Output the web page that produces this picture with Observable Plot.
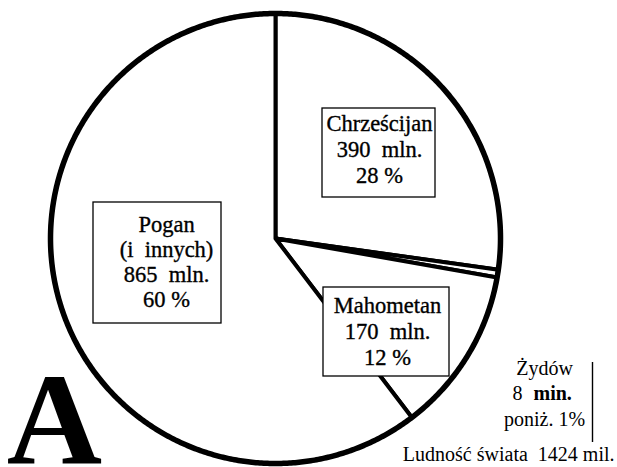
<!DOCTYPE html>
<html>
<head>
<meta charset="utf-8">
<script src="https://cdn.jsdelivr.net/npm/d3@7"></script>
<script src="https://cdn.jsdelivr.net/npm/@observablehq/plot@0.6"></script>
<style>
  html, body { margin: 0; padding: 0; background: #fff; }
  #chart svg { display: block; }
</style>
</head>
<body>
<div id="chart"></div>
<script>
// ---- data ----
const religions = ["Chrześcijan", "Żydów", "Mahometan", "Pogan"];
const millions = [390, 8, 170, 865];
const percentLabels = ["28 %", "poniż. 1%", "12 %", "60 %"];
const worldTotal = 1424;
const subtitleLines = { "Pogan": "(i\u2002innych)" };

// ---- layout (pixels) ----
const W = 617, H = 467;
const pie = { cx: 275, cy: 238, r: 225 };
const boxLayout = {
  "Chrześcijan": { x1: 322, x2: 435, y1: 108, y2: 197, cx: 379, y0: 130, step: 26 },
  "Mahometan":   { x1: 323, x2: 449, y1: 287, y2: 376, cx: 387, y0: 312, step: 26 },
  "Pogan":       { x1: 93,  x2: 221, y1: 202, y2: 323, cx: 166, y0: 231, step: 25.3 }
};
const jewsLayout = { cx: 544, y0: 374, step: 25.5 };

// ---- pie geometry from the data ----
const arcs = d3.pie().sort(null).value(d => d)(millions);
function arcPoints(a0, a1, name, withCenter) {
  const n = Math.max(2, Math.ceil((a1 - a0) / (Math.PI / 360)));
  const pts = withCenter ? [{ name, x: pie.cx, y: pie.cy }] : [];
  for (let i = 0; i <= n; i++) {
    const a = a0 + (a1 - a0) * i / n;
    pts.push({ name, x: pie.cx + pie.r * Math.sin(a), y: pie.cy - pie.r * Math.cos(a) });
  }
  return pts;
}
const slicePts = arcs.flatMap(a => arcPoints(a.startAngle, a.endAngle, religions[a.index], true));
const circlePts = arcPoints(0, 2 * Math.PI, "rim", false);

// ---- boxed labels ----
const boxes = [];
const boxLines = [];
religions.forEach((name, i) => {
  const b = boxLayout[name];
  if (!b) return;
  boxes.push({ name, ...b });
  const lines = [name];
  if (subtitleLines[name]) lines.push(subtitleLines[name]);
  lines.push(`${millions[i]}\u2002mln.`);
  lines.push(percentLabels[i]);
  lines.forEach((t, k) => boxLines.push({ text: t, x: b.cx, y: b.y0 + k * b.step }));
});

const jIdx = religions.indexOf("Żydów");
const jewsText = [
  { text: religions[jIdx], x: jewsLayout.cx, y: jewsLayout.y0 },
  { text: percentLabels[jIdx], x: jewsLayout.cx, y: jewsLayout.y0 + 2 * jewsLayout.step }
];

const serif = "Liberation Serif, Times New Roman, serif";

const chart = Plot.plot({
  width: W,
  height: H,
  margin: 0,
  x: { type: "identity" },
  y: { type: "identity" },
  marks: [
    Plot.line(slicePts, { x: "x", y: "y", z: "name", curve: "linear-closed",
      fill: "white", stroke: "black", strokeWidth: 4, strokeLinejoin: "round" }),
    Plot.line(circlePts, { x: "x", y: "y", curve: "linear-closed",
      stroke: "black", strokeWidth: 5.5 }),
    Plot.rect(boxes, { x1: "x1", x2: "x2", y1: "y1", y2: "y2",
      fill: "white", stroke: "black", strokeWidth: 1.3 }),
    Plot.text(boxLines, { x: "x", y: "y", text: "text", fontFamily: serif,
      fontSize: 22.5, lineAnchor: "bottom", textAnchor: "middle", fill: "black",
      stroke: "black", strokeWidth: 0.35 }),
    Plot.text(jewsText, { x: "x", y: "y", text: "text", fontFamily: serif,
      fontSize: 20, lineAnchor: "bottom", textAnchor: "middle", fill: "black" }),
    Plot.text([String(millions[jIdx])], { x: jewsLayout.cx - 22, y: jewsLayout.y0 + jewsLayout.step,
      text: d => d, fontFamily: serif, fontSize: 20, lineAnchor: "bottom", textAnchor: "end", fill: "black" }),
    Plot.text(["min."], { x: jewsLayout.cx - 11, y: jewsLayout.y0 + jewsLayout.step,
      text: d => d, fontFamily: serif, fontSize: 20, fontWeight: "bold", lineAnchor: "bottom", textAnchor: "start", fill: "black" }),
    Plot.ruleX([592], { x: d => d, y1: 362, y2: 442, stroke: "black", strokeWidth: 1.4 }),
    Plot.text([`Ludność świata\u2002${worldTotal} mil.`], { x: 614, y: 460, text: d => d,
      fontFamily: serif, fontSize: 20, lineAnchor: "bottom", textAnchor: "end", fill: "black" }),
    Plot.text(["A"], { x: 54, y: 463, text: d => d, fontFamily: serif, fontSize: 132,
      fontWeight: "bold", lineAnchor: "bottom", textAnchor: "middle", fill: "black" })
  ]
});
document.getElementById("chart").appendChild(chart);
</script>
</body>
</html>
